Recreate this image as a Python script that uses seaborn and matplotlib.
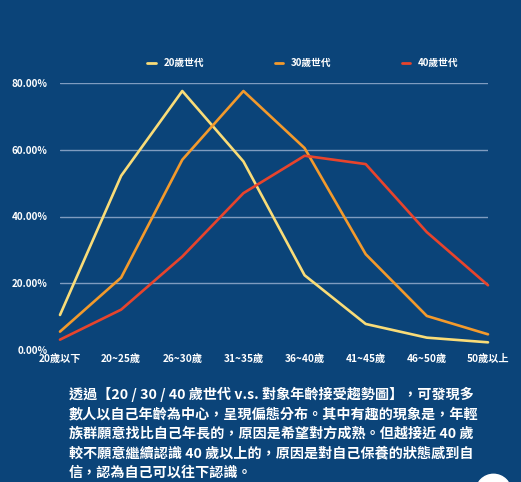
import matplotlib
matplotlib.use("Agg")
import matplotlib.pyplot as plt
from matplotlib.patches import Ellipse
import pandas as pd
import seaborn as sns

age_groups = ["20歲以下", "20~25歲", "26~30歲", "31~35歲", "36~40歲", "41~45歲", "46~50歲", "50歲以上"]
gen20 = [10.5, 52.2, 77.6, 56.5, 22.4, 7.8, 3.7, 2.3]
gen30 = [5.5, 21.7, 57.0, 77.6, 60.5, 28.7, 10.2, 4.7]
gen40 = [3.1, 12.1, 28.0, 47.0, 58.2, 55.7, 35.3, 19.4]
series_names = ["20歲世代", "30歲世代", "40歲世代"]
y_ticks = [0, 20, 40, 60, 80]

body_lines = [
    "透過【20 / 30 / 40 歲世代 v.s. 對象年齡接受趨勢圖】，可發現多",
    "數人以自己年齡為中心，呈現偏態分布。其中有趣的現象是，年輕",
    "族群願意找比自己年長的，原因是希望對方成熟。但越接近 40 歲",
    "較不願意繼續認識 40 歲以上的，原因是對自己保養的狀態感到自",
    "信，認為自己可以往下認識。",
]

BG = "#0b4479"
palette = {"20歲世代": "#f9dc78", "30歲世代": "#f39a2c", "40歲世代": "#e8442c"}

df = pd.DataFrame({
    "age": age_groups * 3,
    "pos": list(range(len(age_groups))) * 3,
    "value": gen20 + gen30 + gen40,
    "series": [series_names[0]] * 8 + [series_names[1]] * 8 + [series_names[2]] * 8,
})

sns.set_theme(style="white")
plt.rcParams["font.family"] = ["Noto Sans CJK TC", "DejaVu Sans"]
plt.rcParams["font.weight"] = "bold"

fig = plt.figure(figsize=(5.21, 4.82), dpi=100, facecolor=BG)
ax = fig.add_axes([60 / 521, 132 / 482, 428 / 521, 267 / 482])
ax.set_facecolor(BG)

# gridlines (none at 0)
for y in y_ticks[1:]:
    ax.axhline(y, color="#7f9cc0", lw=1.0, zorder=0)

sns.lineplot(data=df, x="pos", y="value", hue="series", palette=palette,
             lw=1.9, ax=ax, legend=True, clip_on=False)

ax.set_xlim(0, len(age_groups) - 1)
ax.set_ylim(0, 80)
ax.set_xticks(range(len(age_groups)))
ax.set_xticklabels(age_groups)
ax.set_yticks(y_ticks)
ax.set_yticklabels([f"{v:.2f}%" for v in y_ticks])
ax.tick_params(axis="x", colors="white", labelsize=7.3, pad=3, length=0)
ax.tick_params(axis="y", colors="white", labelsize=7.1, pad=9, length=0)
for lab in ax.get_xticklabels() + ax.get_yticklabels():
    lab.set_fontweight("bold")
ax.set_xlabel("")
ax.set_ylabel("")
for s in ax.spines.values():
    s.set_visible(False)

leg = ax.legend(loc="center", bbox_to_anchor=(0.568, 1.075), ncol=3, frameon=False,
                handlelength=0.9, handletextpad=0.8, columnspacing=7.2,
                prop={"size": 7, "weight": "bold"})
for t in leg.get_texts():
    t.set_color("white")
for h in leg.get_lines():
    h.set_linewidth(2.0)

y0 = 394.5
for i, line in enumerate(body_lines):
    fig.text(69 / 521, 1 - (y0 + i * 19.5) / 482, line, color="white",
             fontsize=10.15, fontweight="bold", va="center", ha="left")

# partial white circle at bottom right
fig.patches.append(Ellipse((493.5 / 521, 1 - 492 / 482), 2 * 17.7 / 521, 2 * 17.7 / 482,
                           transform=fig.transFigure, color="white"))

fig.savefig("out.png", dpi=100, facecolor=BG)
